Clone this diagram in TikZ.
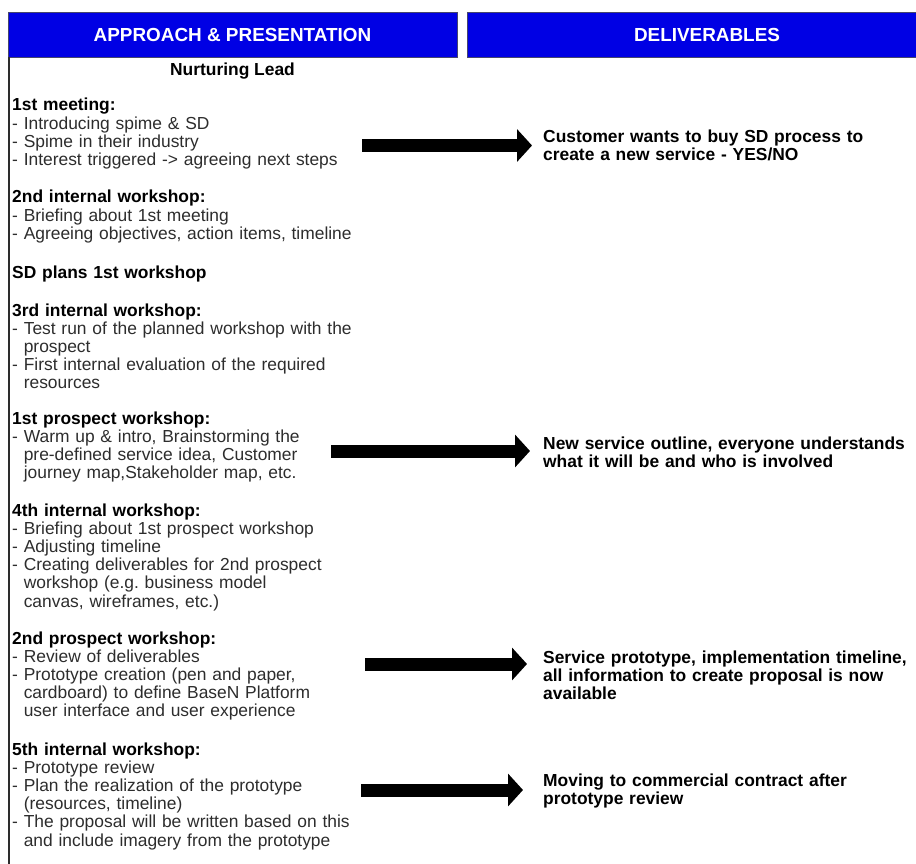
\documentclass[tikz,border=0pt]{standalone}
\usepackage{fontspec}
\setmainfont{Liberation Sans}
\usetikzlibrary{arrows.meta}

\definecolor{hdrblue}{RGB}{0,0,228}
\definecolor{hdrline}{RGB}{70,70,110}
\definecolor{txtgray}{RGB}{45,45,45}
\definecolor{rulegray}{RGB}{45,45,45}

% paragraph setup for the text columns
\newcommand\colsetup{\raggedright\frenchspacing\lineskiplimit=-20pt\relax}
% a bold heading line inside a text column
\newcommand\hd[1]{{\color{black}\bfseries #1}\par}
% a dash item; wrapped lines (\newline) hang under the text after the dash
\newcommand\entry[1]{\setbox0\hbox{- }\hangindent=\wd0\hangafter=1\noindent- #1\par}

\tikzset{
  hdrbar/.style={draw=hdrline, line width=0.8pt, fill=hdrblue},
  hdrtext/.style={text=white, anchor=base, inner sep=0pt,
    font=\fontsize{18.9pt}{20pt}\selectfont\bfseries},
  colbox/.style={anchor=base west, inner sep=0pt, text width=440pt, text=txtgray,
    font=\fontsize{17.4pt}{18.2pt}\selectfont},
  delivbox/.style={anchor=base west, inner sep=0pt, text width=372pt, text=black,
    font=\fontsize{17.4pt}{18.2pt}\selectfont\bfseries},
  blockarrow/.style={black, line width=13pt, -{Triangle[length=15pt,width=32pt]}},
  leftrule/.style={draw=rulegray, line width=1.8pt},
}

\begin{document}
\begin{tikzpicture}[x=1pt, y=-1pt]
  \useasboundingbox (0,0) rectangle (916,864);
  \fill[white] (0,0) rectangle (916,864);

  % column headers
  \draw[hdrbar] (8,12) rectangle (457,57);
  \draw[hdrbar] (467,12) rectangle (940,57);
  \node[hdrtext] (happ) at (232.5,41.3) {APPROACH \& PRESENTATION};
  \node[hdrtext] (hdel) at (707,41.3) {DELIVERABLES};

  % left rule of the approach column
  \draw[leftrule] (9,57) -- (9,870);

  % approach column
  \node[anchor=base, inner sep=0pt, font=\fontsize{17.4pt}{18.2pt}\selectfont\bfseries]
    (nurture) at (232.5,76) {Nurturing Lead};

  \node[colbox] (meet1) at (12,111) {\colsetup
    \hd{1st meeting:}
    \entry{Introducing spime \& SD}
    \entry{Spime in their industry}
    \entry{Interest triggered -> agreeing next steps}};

  \node[colbox] (iw2) at (12,203) {\colsetup
    \hd{2nd internal workshop:}
    \entry{Briefing about 1st meeting}
    \entry{Agreeing objectives, action items, timeline}};

  \node[colbox] (sdp) at (12,278) {\colsetup
    \hd{SD plans 1st workshop}};

  \node[colbox] (iw3) at (12,316) {\colsetup
    \hd{3rd internal workshop:}
    \entry{Test run of the planned workshop with the\newline prospect}
    \entry{First internal evaluation of the required\newline resources}};

  \node[colbox] (pw1) at (12,424) {\colsetup
    \hd{1st prospect workshop:}
    \entry{Warm up \& intro, Brainstorming the\newline pre-defined service idea, Customer\newline journey map,Stakeholder map, etc.}};

  \node[colbox] (iw4) at (12,516) {\colsetup
    \hd{4th internal workshop:}
    \entry{Briefing about 1st prospect workshop}
    \entry{Adjusting timeline}
    \entry{Creating deliverables for 2nd prospect\newline workshop (e.g. business model\newline canvas, wireframes, etc.)}};

  \node[colbox] (pw2) at (12,644) {\colsetup
    \hd{2nd prospect workshop:}
    \entry{Review of deliverables}
    \entry{Prototype creation (pen and paper,\newline cardboard) to define BaseN Platform\newline user interface and user experience}};

  \node[colbox] (iw5) at (12,755) {\colsetup
    \hd{5th internal workshop:}
    \entry{Prototype review}
    \entry{Plan the realization of the prototype\newline (resources, timeline)}
    \entry{The proposal will be written based on this\newline and include imagery from the prototype}};

  % deliverables column
  \node[delivbox] (d1) at (543,142.5) {\colsetup
    Customer wants to buy SD process to\newline create a new service - YES/NO};
  \node[delivbox] (d2) at (543,449.5) {\colsetup
    New service outline, everyone understands\newline what it will be and who is involved};
  \node[delivbox] (d3) at (543,663) {\colsetup
    Service prototype, implementation timeline,\newline all information to create proposal is now\newline available};
  \node[delivbox] (d4) at (543,786) {\colsetup
    Moving to commercial contract after\newline prototype review};

  % arrow ends
  \coordinate (a1s) at (362,145.5);  \coordinate (a1e) at (532,145.5);
  \coordinate (a2s) at (331,451);    \coordinate (a2e) at (530,451);
  \coordinate (a3s) at (365,664);    \coordinate (a3e) at (527,664);
  \coordinate (a4s) at (361,790);    \coordinate (a4e) at (523,790);

  \draw[blockarrow] (a1s) -- (a1e);
  \draw[blockarrow] (a2s) -- (a2e);
  \draw[blockarrow] (a3s) -- (a3e);
  \draw[blockarrow] (a4s) -- (a4e);
\end{tikzpicture}
\end{document}
